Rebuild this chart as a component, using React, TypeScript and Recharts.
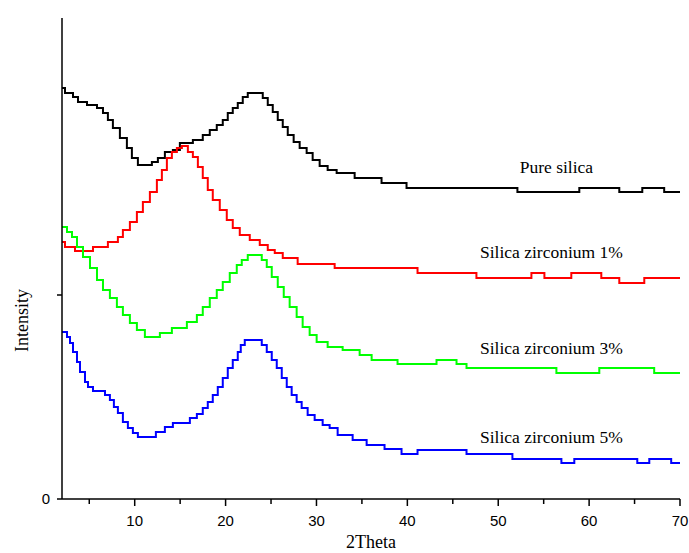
import { LineChart, Line, XAxis, YAxis, ReferenceDot } from "recharts";

// [2theta, intensity (a.u.)]
const PURE_SILICA: [number, number][] = [
  [2.0, 411], [2.33, 406], [3.21, 402], [3.76, 397], [4.75, 394], [5.85, 391], [6.51, 386], [7.05, 379],
  [7.6, 371], [8.37, 361], [9.14, 351], [9.69, 341], [10.35, 334], [11.89, 337], [12.55, 341], [13.32, 347],
  [14.2, 349], [14.97, 356], [16.4, 359], [17.49, 364], [18.26, 369], [19.03, 374], [19.69, 379], [20.24, 386],
  [20.79, 391], [21.34, 396], [21.89, 402], [22.44, 406], [24.09, 401], [24.64, 394], [25.19, 387], [25.74, 379],
  [26.29, 372], [26.84, 364], [27.49, 357], [28.15, 351], [28.92, 346], [29.58, 339], [30.35, 333], [31.23, 329],
  [32.22, 326], [34.2, 321], [37.16, 316], [39.91, 311], [52.11, 307], [58.92, 311], [63.32, 307], [65.85, 311],
  [68.26, 307], [70, 307],
];

const ZIRCONIUM_1: [number, number][] = [
  [2.0, 257], [2.33, 252], [3.43, 248], [5.41, 252], [7.05, 257], [8.15, 262], [8.7, 269], [9.47, 277],
  [10.24, 287], [10.9, 297], [11.67, 307], [12.44, 319], [12.99, 329], [13.54, 341], [14.09, 347], [14.64, 351],
  [15.19, 353], [15.85, 347], [16.4, 342], [16.95, 332], [17.49, 321], [18.04, 309], [18.59, 299], [19.36, 289],
  [20.13, 279], [20.79, 271], [21.56, 264], [22.66, 259], [23.76, 254], [24.64, 249], [25.41, 246], [26.29, 241],
  [27.93, 235], [32.0, 231], [41.12, 226], [47.6, 221], [53.65, 226], [55.08, 221], [58.04, 226], [61.34, 221],
  [63.32, 216], [66.07, 221], [70, 221],
];

const ZIRCONIUM_3: [number, number][] = [
  [2.0, 272], [2.55, 267], [3.1, 262], [3.65, 252], [4.31, 242], [5.08, 231], [5.85, 219], [6.51, 209],
  [7.27, 201], [8.04, 192], [8.7, 184], [9.47, 176], [10.24, 169], [11.12, 162], [12.77, 166], [14.09, 171],
  [15.74, 177], [16.84, 184], [17.49, 192], [18.26, 201], [19.03, 209], [19.69, 217], [20.46, 226], [21.23, 234],
  [21.78, 239], [22.44, 244], [23.98, 239], [24.53, 232], [25.08, 222], [25.74, 212], [26.4, 202], [27.05, 192],
  [27.82, 182], [28.48, 172], [29.25, 164], [30.02, 157], [31.23, 152], [32.88, 149], [34.75, 144], [36.07, 139],
  [38.92, 135], [43.21, 139], [45.41, 135], [46.51, 131], [56.4, 126], [61.12, 131], [67.16, 126], [70, 126],
];

const ZIRCONIUM_5: [number, number][] = [
  [2.0, 167], [2.55, 162], [2.88, 156], [3.21, 147], [3.65, 137], [3.98, 127], [4.53, 117], [4.86, 112],
  [5.41, 108], [6.73, 104], [7.27, 99], [7.71, 92], [8.15, 86], [8.7, 77], [9.25, 71], [9.8, 66],
  [10.35, 62], [12.33, 67], [13.32, 72], [14.2, 76], [16.07, 81], [16.84, 85], [17.49, 91], [18.04, 97],
  [18.59, 104], [19.14, 112], [19.69, 121], [20.24, 131], [20.79, 139], [21.34, 147], [21.67, 154], [22.11, 159],
  [23.98, 154], [24.53, 147], [25.08, 139], [25.63, 131], [26.18, 121], [26.73, 112], [27.27, 104], [27.82, 97],
  [28.37, 91], [29.03, 84], [29.8, 79], [30.68, 74], [31.45, 71], [32.33, 64], [33.98, 59], [35.52, 54],
  [37.49, 50], [39.36, 45], [41.12, 49], [46.51, 45], [51.56, 40], [56.95, 36], [58.37, 40], [65.3, 36],
  [66.62, 40], [69.03, 36], [70, 36],
];

const SERIES_NAMES = ["Pure silica", "Silica zirconium 1%", "Silica zirconium 3%", "Silica zirconium 5%"];
const THETA_TICKS = [5, 10, 15, 20, 25, 30, 35, 40, 45, 50, 55, 60, 65, 70];
const INTENSITY_TICKS = [0, 204];

const SERIF = "'Liberation Serif', 'Times New Roman', serif";
const SANS = "'Liberation Sans', Arial, sans-serif";

const series = [
  { name: SERIES_NAMES[0], points: PURE_SILICA, color: "#000000", label: [56.4, 332] },
  { name: SERIES_NAMES[1], points: ZIRCONIUM_1, color: "#ff0000", label: [55.85, 247] },
  { name: SERIES_NAMES[2], points: ZIRCONIUM_3, color: "#00ff00", label: [55.85, 151] },
  { name: SERIES_NAMES[3], points: ZIRCONIUM_5, color: "#0000ff", label: [55.85, 62] },
].map((s) => ({ ...s, data: s.points.map(([t, v]) => ({ t, v })) }));

function ThetaTick({ x, y, payload }: any) {
  const major = payload.value % 10 === 0;
  return (
    <g>
      <line x1={x} x2={x} y1={y} y2={y + (major ? 7 : 5)} stroke="#000" strokeWidth={1.5} />
      {major && (
        <text x={x} y={y + 27} textAnchor="middle" fontSize={15} fontFamily={SANS} fill="#000">
          {payload.value}
        </text>
      )}
    </g>
  );
}

function IntensityTick({ x, y, payload }: any) {
  return (
    <g>
      <line x1={x - 5} x2={x} y1={y} y2={y} stroke="#000" strokeWidth={1.5} />
      {payload.value === 0 && (
        <text x={x - 12} y={y} dy="0.35em" textAnchor="end" fontSize={15} fontFamily={SANS} fill="#000">
          0
        </text>
      )}
    </g>
  );
}

export default function App() {
  return (
    <div style={{ position: "absolute", left: 8, top: 8, width: 681, height: 545 }}>
      <LineChart width={681} height={545} margin={{ top: 10, right: 9, bottom: 0, left: 14 }}>
        <XAxis
          dataKey="t"
          type="number"
          domain={[2, 70]}
          allowDataOverflow
          ticks={THETA_TICKS}
          interval={0}
          tickSize={0}
          tickMargin={0}
          tickLine={false}
          tick={<ThetaTick />}
          height={54}
          axisLine={{ stroke: "#000", strokeWidth: 1.5 }}
          label={{
            content: ({ viewBox }: any) => (
              <text
                x={viewBox.x + viewBox.width / 2}
                y={viewBox.y + viewBox.height - 5}
                textAnchor="middle"
                fontSize={18}
                fontFamily={SERIF}
                fill="#000"
              >
                2Theta
              </text>
            ),
          }}
        />
        <XAxis
          xAxisId="top"
          orientation="top"
          dataKey="t"
          type="number"
          domain={[2, 70]}
          height={0}
          tick={false}
          tickLine={false}
          axisLine={{ stroke: "#808080", strokeWidth: 1.5 }}
        />
        <YAxis
          type="number"
          domain={[0, 481]}
          allowDataOverflow
          ticks={INTENSITY_TICKS}
          interval={0}
          width={40}
          tickSize={0}
          tickMargin={0}
          tickLine={false}
          tick={<IntensityTick />}
          axisLine={{ stroke: "#000", strokeWidth: 1.5 }}
          label={{
            content: ({ viewBox }: any) => {
              const cx = viewBox.x;
              const cy = viewBox.y + viewBox.height / 2 + 62;
              return (
                <text
                  x={cx}
                  y={cy}
                  transform={`rotate(-90 ${cx} ${cy})`}
                  textAnchor="middle"
                  dominantBaseline="central"
                  fontSize={18}
                  fontFamily={SERIF}
                  fill="#000"
                >
                  Intensity
                </text>
              );
            },
          }}
        />
        <YAxis
          yAxisId="right"
          orientation="right"
          width={0}
          tick={false}
          tickLine={false}
          axisLine={{ stroke: "#444", strokeWidth: 1.5 }}
        />
        {series.map((s) => (
          <Line
            key={s.name}
            data={s.data}
            dataKey="v"
            name={s.name}
            type="stepAfter"
            stroke={s.color}
            strokeWidth={2}
            dot={false}
            activeDot={false}
            isAnimationActive={false}
          />
        ))}
        {series.map((s) => (
          <ReferenceDot
            key={s.name + "-label"}
            x={s.label[0]}
            y={s.label[1]}
            r={0}
            fill="none"
            stroke="none"
            label={{
              content: ({ viewBox }: any) => (
                <text
                  x={viewBox.x + (viewBox.width || 0) / 2}
                  y={viewBox.y + (viewBox.height || 0) / 2}
                  textAnchor="middle"
                  dominantBaseline="central"
                  fontSize={17.5}
                  fontFamily={SERIF}
                  fill="#000"
                >
                  {s.name}
                </text>
              ),
            }}
          />
        ))}
      </LineChart>
    </div>
  );
}
